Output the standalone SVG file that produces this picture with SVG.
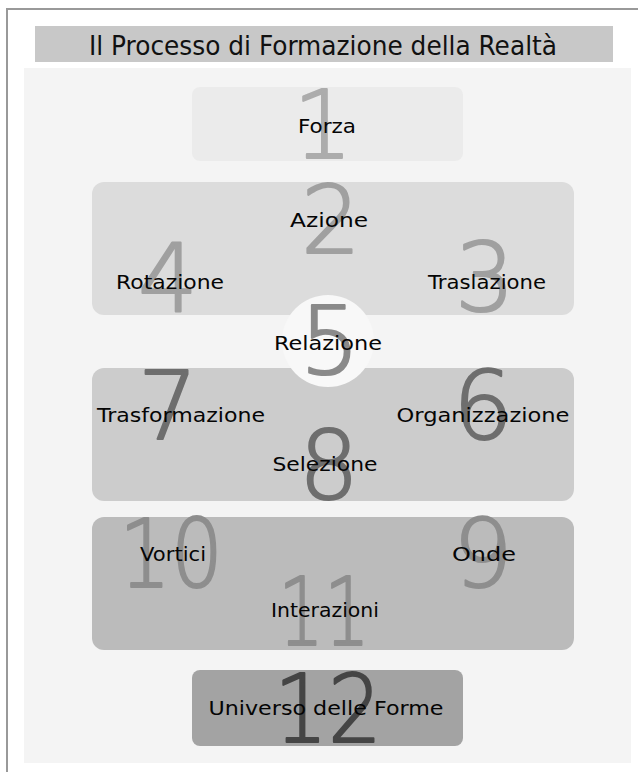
<svg xmlns="http://www.w3.org/2000/svg" width="638" height="772" viewBox="0 0 638 772">
<style>
.lbl{font-family:"DejaVu Sans","Liberation Sans",sans-serif;font-size:19.5px;fill:#050505;text-anchor:middle}
.num{font-family:"DejaVu Sans","Liberation Sans",sans-serif;font-weight:200;font-size:94px;text-anchor:middle;stroke-width:2.2;stroke-linejoin:round}
.ttl{font-family:"DejaVu Sans Condensed","DejaVu Sans",sans-serif;font-size:27px;fill:#111;text-anchor:middle}
.g1{fill:#acacac;stroke:#acacac}
.g2{fill:#a0a0a0;stroke:#a0a0a0}
.g3{fill:#8a8a8a;stroke:#8a8a8a}
.g4{fill:#6e6e6e;stroke:#6e6e6e}
.g5{fill:#8e8e8e;stroke:#8e8e8e}
.g6{fill:#454545;stroke:#454545}
</style>
<rect x="0" y="0" width="638" height="772" fill="#ffffff"/>
<path d="M7 772 V9 H638" fill="none" stroke="#999" stroke-width="2"/>
<g id="title">
<rect x="35" y="26" width="578" height="36" fill="#c8c8c8"/>
<text class="ttl" x="323" y="55" textLength="468" lengthAdjust="spacingAndGlyphs">Il Processo di Formazione della Realtà</text>
</g>
<rect x="24" y="68" width="607" height="695" fill="#f4f4f4"/>
<g id="n1">
<rect x="192" y="87" width="271" height="74" rx="8" fill="#ebebeb"/>
<text class="num g1" x="323" y="158">1</text>
<text class="lbl" x="327" y="133" textLength="58" lengthAdjust="spacingAndGlyphs">Forza</text>
</g>
<g id="n2">
<rect x="92" y="182" width="482" height="133" rx="12" fill="#dcdcdc"/>
<text class="num g2" x="331" y="253">2</text>
<text class="num g2" x="168" y="311">4</text>
<text class="num g2" x="485" y="311">3</text>
<text class="lbl" x="329" y="227" textLength="78" lengthAdjust="spacingAndGlyphs">Azione</text>
<text class="lbl" x="170" y="289" textLength="108" lengthAdjust="spacingAndGlyphs">Rotazione</text>
<text class="lbl" x="487" y="289" textLength="118" lengthAdjust="spacingAndGlyphs">Traslazione</text>
</g>
<g id="n3">
<rect x="92" y="368" width="482" height="133" rx="12" fill="#cccccc"/>
<text class="num g4" x="168" y="439">7</text>
<text class="num g4" x="483" y="439">6</text>
<text class="num g4" x="329" y="499">8</text>
<text class="lbl" x="181" y="422" textLength="168" lengthAdjust="spacingAndGlyphs">Trasformazione</text>
<text class="lbl" x="483" y="422" textLength="173" lengthAdjust="spacingAndGlyphs">Organizzazione</text>
<text class="lbl" x="325" y="471" textLength="105" lengthAdjust="spacingAndGlyphs">Selezione</text>
</g>
<g id="n5">
<circle cx="328" cy="341" r="46" fill="#f8f8f8"/>
<text class="num g3" x="330" y="374">5</text>
<text class="lbl" x="328" y="350" textLength="108" lengthAdjust="spacingAndGlyphs">Relazione</text>
</g>
<g id="n4">
<rect x="92" y="517" width="482" height="133" rx="12" fill="#bbbbbb"/>
<text class="num g5" x="171" y="587" textLength="104" lengthAdjust="spacingAndGlyphs">10</text>
<text class="num g5" x="483" y="587">9</text>
<text class="num g5" x="324" y="645" textLength="92" lengthAdjust="spacingAndGlyphs">11</text>
<text class="lbl" x="173" y="561" textLength="66" lengthAdjust="spacingAndGlyphs">Vortici</text>
<text class="lbl" x="484" y="561" textLength="64" lengthAdjust="spacingAndGlyphs">Onde</text>
<text class="lbl" x="325" y="617" textLength="108" lengthAdjust="spacingAndGlyphs">Interazioni</text>
</g>
<g id="n6">
<rect x="192" y="670" width="271" height="76" rx="8" fill="#a3a3a3"/>
<text class="num g6" x="328" y="742" textLength="108" lengthAdjust="spacingAndGlyphs">12</text>
<text class="lbl" x="326" y="715" textLength="235" lengthAdjust="spacingAndGlyphs">Universo delle Forme</text>
</g>
</svg>
